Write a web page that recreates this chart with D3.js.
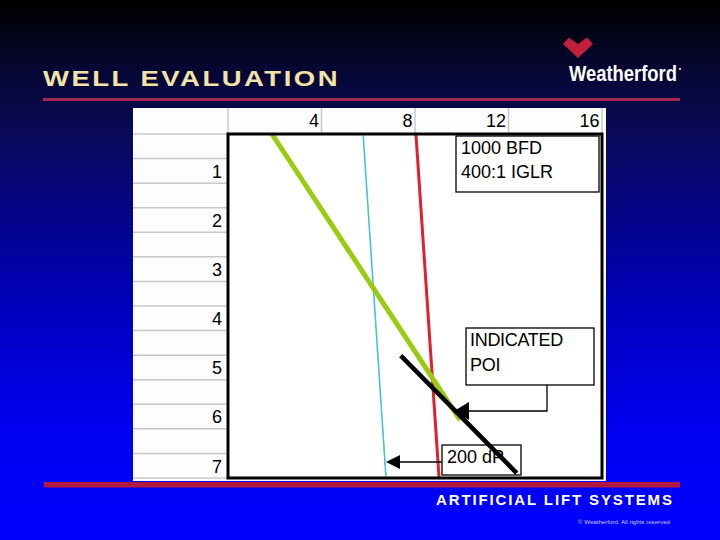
<!DOCTYPE html>
<html>
<head>
<meta charset="utf-8">
<script src="https://cdn.jsdelivr.net/npm/d3@7"></script>
<style>
html,body{margin:0;padding:0;background:#000;}
svg{display:block;}
text{font-family:"Liberation Sans",Arial,sans-serif;}
</style>
</head>
<body>
<svg id="c" width="720" height="540"></svg>
<script>
// ---- data ----
const depthTicks = [1, 2, 3, 4, 5, 6, 7];
const pressureTicks = [4, 8, 12, 16];
const cyanX = [5.78, 6.76], cyanY = [0, 7];
const redX = [8.04, 9.03], redY = [0, 7];
const greenX = [1.88, 9.93], greenY = [0, 5.82];
const blackX = [7.39, 12.35], blackY = [4.51, 6.90];
const infoLines = ["1000 BFD", "400:1 IGLR"];
const poiLines = ["INDICATED", "POI"];
const dpLabel = "200 dP";

const svg = d3.select("#c");
const defs = svg.append("defs");
const bg = defs.append("linearGradient").attr("id","bg").attr("x1",0).attr("y1",0).attr("x2",0).attr("y2",1);
[[0,"#000000"],[0.12,"#060630"],[0.25,"#0a0a5a"],[0.55,"#0000b8"],[0.8,"#0000f2"],[1,"#0000ff"]]
  .forEach(([o,c])=>bg.append("stop").attr("offset",o).attr("stop-color",c));
svg.append("rect").attr("width",720).attr("height",540).attr("fill","url(#bg)");

// header
svg.append("text").attr("x",43).attr("y",86).attr("font-size",22).attr("font-weight","bold")
  .attr("font-family","'DejaVu Sans',Verdana,sans-serif").attr("letter-spacing",2)
  .attr("fill","#f2e3a6").attr("textLength",297).attr("lengthAdjust","spacingAndGlyphs").text("WELL EVALUATION");
svg.append("rect").attr("x",43).attr("y",98).attr("width",637).attr("height",3).attr("fill","#a02a55");
// logo
svg.append("path").attr("d","M563,44 L569,37.5 L578,44 L587,37.5 L593,44 L578,58 Z").attr("fill","#c21f3a");
svg.append("text").attr("x",569).attr("y",81).attr("font-size",22).attr("font-weight","bold")
  .attr("font-family","'DejaVu Sans Condensed','DejaVu Sans',sans-serif")
  .attr("fill","#ffffff").attr("textLength",108).attr("lengthAdjust","spacingAndGlyphs").text("Weatherford");
svg.append("circle").attr("cx",680).attr("cy",69).attr("r",1).attr("fill","#fff");

// scales
const x = d3.scaleLinear().domain([0,16]).range([228,602]);
const y = d3.scaleLinear().domain([0,7]).range([134,478]);

// chart panel
svg.append("rect").attr("x",133).attr("y",108).attr("width",473).attr("height",373).attr("fill","#fdfdfd");
const g = svg.append("g");
g.selectAll("line.h").data(d3.range(0,7.01,0.5)).join("line")
  .attr("x1",133).attr("x2",x(0)).attr("y1",d=>y(d)).attr("y2",d=>y(d))
  .attr("stroke","#c8c8c8").attr("stroke-width",1.5);
g.selectAll("line.v").data([0].concat(pressureTicks)).join("line")
  .attr("x1",d=>x(d)).attr("x2",d=>x(d)).attr("y1",108).attr("y2",y(0))
  .attr("stroke","#c8c8c8").attr("stroke-width",1.5);

// axis labels via d3 axes (domain and ticks hidden)
const topAxis = d3.axisTop(x).tickValues(pressureTicks).tickFormat(d3.format("d")).tickSize(0).tickPadding(0);
const ta = svg.append("g").attr("transform","translate(0,127)").call(topAxis);
ta.select(".domain").remove();
ta.selectAll("text").attr("font-size",18).attr("fill","#000").attr("font-family","'Liberation Sans',Arial,sans-serif")
  .attr("text-anchor","end").attr("dx",-3).attr("dy",0);
const leftAxis = d3.axisLeft(y).tickValues(depthTicks).tickFormat(d3.format("d")).tickSize(0).tickPadding(0);
const la = svg.append("g").attr("transform","translate(222,0)").call(leftAxis);
la.select(".domain").remove();
la.selectAll("text").attr("font-size",18).attr("fill","#000").attr("font-family","'Liberation Sans',Arial,sans-serif")
  .attr("dy",-6);

// plot area
svg.append("rect").attr("x",x(0)).attr("y",y(0)).attr("width",x(16)-x(0)).attr("height",y(7)-y(0)).attr("fill","#ffffff");

// annotation boxes
function box(x0,y0,w,h){
  svg.append("rect").attr("x",x0).attr("y",y0).attr("width",w).attr("height",h)
    .attr("fill","#fff").attr("stroke","#000").attr("stroke-width",1.3);
}
box(456,136,143,56);
infoLines.forEach((t,i)=>svg.append("text").attr("x",461).attr("y",154+i*23.5).attr("font-size",18).text(t));
box(466,328,128,57);
poiLines.forEach((t,i)=>svg.append("text").attr("x",470).attr("y",346+i*25).attr("font-size",18).attr("letter-spacing",-0.3).text(t));
box(442,445,79,30);
svg.append("text").attr("x",447).attr("y",463).attr("font-size",18).text(dpLabel);

// series lines
const line = d3.line().x(d=>x(d[0])).y(d=>y(d[1]));
function series(xs,ys,color,w){
  svg.append("path").datum(d3.zip(xs,ys)).attr("d",line).attr("fill","none")
    .attr("stroke",color).attr("stroke-width",w);
}
series(cyanX,cyanY,"#45c3cf",1.6);
series(redX,redY,"#e0202a",3);
series(greenX,greenY,"#99cc11",5);
series(blackX,blackY,"#000000",4.5);

// arrows
svg.append("polyline").attr("points","547,385 547,411 465,411").attr("fill","none").attr("stroke","#000").attr("stroke-width",1.3);
svg.append("path").attr("d","M454,411 L469,402 L469,420 Z").attr("fill","#000");
svg.append("line").attr("x1",442).attr("x2",398).attr("y1",462).attr("y2",462).attr("stroke","#000").attr("stroke-width",1.3);
svg.append("path").attr("d","M386,462 L400,455 L400,469 Z").attr("fill","#000");

// plot border
svg.append("rect").attr("x",x(0)).attr("y",y(0)).attr("width",x(16)-x(0)).attr("height",y(7)-y(0))
  .attr("fill","none").attr("stroke","#000").attr("stroke-width",3);

// footer
svg.append("rect").attr("x",44).attr("y",482).attr("width",636).attr("height",5.5).attr("fill","#b01a42");
svg.append("text").attr("x",436).attr("y",505).attr("font-size",15).attr("font-weight","bold")
  .attr("font-family","'DejaVu Sans',Verdana,sans-serif")
  .attr("fill","#ffffff").attr("textLength",236).attr("lengthAdjust","spacing").text("ARTIFICIAL LIFT SYSTEMS");
svg.append("text").attr("x",578).attr("y",524).attr("font-size",5.5)
  .attr("fill","#c8c8ff").attr("textLength",92).attr("lengthAdjust","spacingAndGlyphs").text("© Weatherford. All rights reserved");
</script>
</body>
</html>
